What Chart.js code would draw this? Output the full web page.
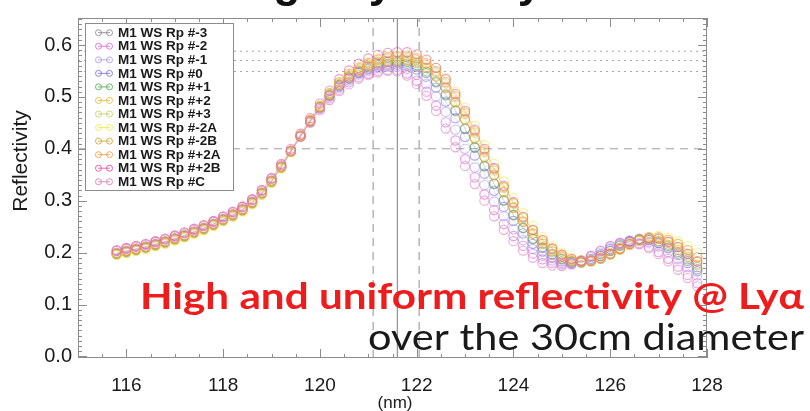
<!DOCTYPE html>
<html><head><meta charset="utf-8">
<script src="https://cdn.jsdelivr.net/npm/chart.js@4.4.0/dist/chart.umd.min.js"></script>
<style>html,body{margin:0;padding:0;background:#fff;}#wrap{width:810px;height:411px;position:relative;}</style>
</head><body><div id="wrap"><canvas id="c" width="810" height="411"></canvas></div>
<script>
// ---- data ----
const wavelengths = [115.8,116.0,116.2,116.4,116.6,116.8,117.0,117.2,117.4,117.6,117.8,118.0,118.2,118.4,118.6,118.8,119.0,119.2,119.4,119.6,119.8,120.0,120.2,120.4,120.6,120.8,121.0,121.2,121.4,121.6,121.8,122.0,122.2,122.4,122.6,122.8,123.0,123.2,123.4,123.6,123.8,124.0,124.2,124.4,124.6,124.8,125.0,125.2,125.4,125.6,125.8,126.0,126.2,126.4,126.6,126.8,127.0,127.2,127.4,127.6,127.8];
const seriesNames = ["M1 WS Rp #-3","M1 WS Rp #-2","M1 WS Rp #-1","M1 WS Rp #0","M1 WS Rp #+1","M1 WS Rp #+2","M1 WS Rp #+3","M1 WS Rp #-2A","M1 WS Rp #-2B","M1 WS Rp #+2A","M1 WS Rp #+2B","M1 WS Rp #C"];
const rpM3 = [.198,.202,.206,.210,.215,.220,.226,.232,.239,.246,.254,.263,.272,.282,.296,.314,.337,.364,.394,.424,.453,.480,.503,.522,.536,.547,.555,.561,.564,.566,.564,.558,.546,.528,.503,.473,.438,.402,.366,.332,.300,.272,.247,.226,.209,.196,.187,.182,.181,.185,.193,.203,.213,.221,.225,.224,.219,.210,.198,.184,.168];
const rpM2 = [.203,.207,.211,.215,.220,.225,.231,.237,.244,.251,.259,.268,.277,.287,.301,.319,.342,.368,.396,.424,.452,.477,.497,.514,.528,.538,.545,.550,.552,.552,.545,.531,.510,.483,.451,.416,.380,.345,.312,.282,.255,.232,.213,.198,.187,.180,.177,.179,.185,.194,.204,.213,.219,.221,.218,.211,.201,.188,.173,.157,.141];
const rpM1 = [.199,.203,.207,.211,.216,.221,.227,.233,.240,.247,.255,.264,.273,.283,.297,.315,.338,.365,.395,.425,.453,.479,.500,.518,.532,.543,.550,.555,.558,.558,.554,.543,.525,.501,.471,.437,.400,.364,.330,.298,.270,.245,.224,.207,.194,.185,.180,.180,.184,.191,.200,.210,.218,.223,.224,.220,.212,.201,.188,.172,.156];
const rp0 = [.198,.202,.206,.211,.216,.221,.227,.233,.240,.247,.255,.264,.273,.283,.297,.315,.338,.365,.395,.425,.454,.480,.502,.520,.535,.546,.553,.558,.561,.562,.560,.553,.539,.518,.491,.459,.423,.387,.352,.319,.288,.261,.237,.217,.202,.190,.183,.180,.182,.188,.197,.207,.216,.223,.226,.224,.218,.208,.195,.180,.164];
const rpP1 = [.199,.203,.207,.211,.216,.221,.227,.233,.240,.247,.255,.264,.273,.283,.297,.315,.338,.365,.395,.425,.454,.481,.504,.523,.538,.549,.558,.564,.567,.568,.567,.561,.549,.530,.505,.474,.439,.403,.367,.333,.301,.273,.248,.227,.210,.197,.188,.183,.182,.186,.194,.204,.214,.222,.227,.227,.222,.213,.201,.187,.172];
const rpP2 = [.199,.203,.207,.211,.216,.221,.227,.233,.240,.247,.255,.264,.273,.283,.297,.315,.338,.365,.396,.426,.455,.482,.505,.525,.540,.552,.561,.567,.570,.572,.572,.567,.557,.541,.519,.491,.458,.422,.385,.350,.317,.287,.260,.237,.218,.203,.192,.185,.182,.184,.190,.199,.209,.218,.225,.228,.226,.220,.210,.197,.183];
const rpP3 = [.196,.200,.204,.208,.213,.218,.224,.230,.237,.244,.252,.261,.270,.280,.294,.312,.335,.363,.394,.426,.455,.482,.506,.526,.542,.554,.563,.569,.573,.575,.575,.571,.562,.547,.526,.499,.467,.431,.394,.358,.325,.294,.266,.242,.222,.206,.194,.186,.182,.183,.188,.196,.206,.215,.223,.228,.228,.224,.216,.205,.191];
const rpM2A = [.195,.199,.203,.207,.212,.217,.223,.229,.236,.243,.251,.260,.269,.279,.293,.311,.334,.362,.393,.425,.456,.483,.508,.529,.545,.558,.567,.574,.578,.580,.581,.578,.570,.556,.536,.510,.479,.444,.407,.371,.337,.305,.276,.251,.230,.213,.200,.191,.186,.185,.189,.196,.205,.215,.224,.230,.232,.229,.222,.212,.200];
const rpM2B = [.197,.201,.205,.209,.214,.219,.225,.231,.238,.245,.253,.262,.271,.281,.295,.313,.336,.364,.394,.424,.453,.480,.503,.523,.538,.550,.559,.565,.568,.570,.570,.565,.555,.539,.517,.489,.456,.420,.384,.349,.316,.286,.259,.236,.217,.202,.191,.184,.181,.183,.189,.198,.208,.217,.223,.225,.222,.215,.205,.192,.177];
const rpP2A = [.200,.204,.208,.212,.217,.222,.228,.234,.241,.248,.256,.265,.274,.284,.298,.316,.339,.366,.396,.426,.455,.482,.507,.528,.544,.556,.565,.572,.576,.578,.578,.574,.565,.550,.529,.502,.470,.434,.397,.361,.327,.296,.268,.244,.224,.208,.196,.188,.184,.184,.189,.197,.207,.217,.225,.230,.230,.225,.217,.205,.191];
const rpP2B = [.205,.209,.213,.217,.222,.227,.233,.239,.246,.253,.261,.270,.279,.289,.303,.321,.344,.371,.400,.429,.459,.487,.512,.534,.551,.564,.574,.581,.585,.586,.586,.582,.572,.556,.534,.506,.473,.437,.400,.363,.329,.297,.269,.244,.224,.208,.196,.188,.184,.184,.189,.197,.207,.216,.224,.228,.227,.221,.211,.198,.183];
const rpC = [.204,.208,.212,.216,.221,.226,.232,.238,.245,.252,.260,.269,.278,.288,.302,.320,.343,.369,.397,.423,.450,.474,.494,.511,.524,.535,.542,.547,.550,.549,.541,.525,.502,.473,.439,.403,.367,.332,.300,.270,.244,.222,.204,.190,.180,.175,.174,.177,.184,.193,.203,.212,.218,.220,.216,.208,.197,.183,.167,.151,.135];
const seriesValues = [rpM3,rpM2,rpM1,rp0,rpP1,rpP2,rpP3,rpM2A,rpM2B,rpP2A,rpP2B,rpC];
const seriesColors = ["#85828e","#d768d8","#ad9ce8","#7372dc","#52aa52","#e6b83c","#c2d468","#f0ea4a","#d2a53a","#f3983e","#e44c9e","#da7cb4"];
const drawOrder = [11,3,8,9,10,6,7,4,5,1,2,0];
const xTicks = [116,118,120,122,124,126,128];
const yTicks = [0.0,0.1,0.2,0.3,0.4,0.5,0.6];
const vLinesDashed = [121.1, 122.05];
const vLineSolid = [121.6];
const hLinesDashed = [0.4];
const hLinesDotted = [0.588, 0.570, 0.549];
const xTitle = '(nm)', yTitle = 'Reflectivity';
const noteLine1 = 'High and uniform reflectivity @ Ly\u03B1';
const noteLine2 = 'over the 30cm diameter';
const X_MIN = 115, X_MAX = 128, Y_MIN = -0.003, Y_MAX = 0.652;

function hexA(h, a){const r=parseInt(h.slice(1,3),16),g=parseInt(h.slice(3,5),16),b=parseInt(h.slice(5,7),16);return `rgba(${r},${g},${b},${a})`;}

const datasets = [];
seriesValues.forEach((vals,i)=>{
  datasets.push({
    label: seriesNames[i],
    data: vals.map((v,k)=>({x:wavelengths[k], y:v})),
    showLine:true, borderWidth:0.7, borderColor:hexA(seriesColors[i],0.3),
    pointRadius:4.6, pointBorderWidth:1.1, pointBackgroundColor:'rgba(0,0,0,0)',
    pointBorderColor:hexA(seriesColors[i],0.6), pointStyle:'circle', order:drawOrder[i]
  });
});
const refStyle = {showLine:true, pointRadius:0, borderWidth:1.1, order:20};
vLinesDashed.forEach(v=>datasets.push(Object.assign({data:[{x:v,y:Y_MIN},{x:v,y:Y_MAX}], borderColor:'#9a9a9a', borderDash:[8,6]}, refStyle)));
vLineSolid.forEach(v=>datasets.push(Object.assign({data:[{x:v,y:Y_MIN},{x:v,y:Y_MAX}], borderColor:'#8a8a8a'}, refStyle)));
hLinesDashed.forEach(v=>datasets.push(Object.assign({data:[{x:X_MIN,y:v},{x:X_MAX,y:v}], borderColor:'#a0a0a0', borderDash:[8,6]}, refStyle)));
hLinesDotted.forEach(v=>datasets.push(Object.assign({data:[{x:X_MIN,y:v},{x:X_MAX,y:v}], borderColor:'#a8a8a8', borderDash:[2,4]}, refStyle)));

const FONT = '"Liberation Sans", Arial, sans-serif';
const decor = {
  id:'decor',
  afterDatasetsDraw(chart){
    const ctx = chart.ctx, a = chart.chartArea, xs = chart.scales.x, ys = chart.scales.y;
    ctx.save();
    ctx.strokeStyle = '#8c8c8c'; ctx.lineWidth = 1;
    ctx.strokeRect(a.left+0.5, a.top+0.5, a.right-a.left-1, a.bottom-a.top-1);
    ctx.beginPath();
    for (let v=115; v<=128.001; v+=0.5){
      const px = Math.round(xs.getPixelForValue(v))+0.5;
      const major = Math.abs(v/2-Math.round(v/2))<1e-6;
      const L = major?9:4;
      ctx.moveTo(px,a.bottom); ctx.lineTo(px,a.bottom-L);
      ctx.moveTo(px,a.top); ctx.lineTo(px,a.top+L);
    }
    for (let k=0; k<=65; k++){
      const v = k/100; if (v>Y_MAX) break;
      const py = Math.round(ys.getPixelForValue(v))+0.5;
      const L = (k%10===0)?9:4;
      ctx.moveTo(a.left,py); ctx.lineTo(a.left+L,py);
      ctx.moveTo(a.right,py); ctx.lineTo(a.right-L,py);
    }
    ctx.stroke();
    const bx=85, by=23, bw=148, bh=167;
    ctx.fillStyle='#fff'; ctx.fillRect(bx,by,bw,bh);
    ctx.strokeStyle='#8c8c8c'; ctx.strokeRect(bx+0.5,by+0.5,bw,bh);
    ctx.font = 'bold 13.5px ' + FONT;
    ctx.textBaseline='middle';
    seriesNames.forEach((n,i)=>{
      const y = 32.7 + i*13.55;
      const c = seriesColors[i];
      ctx.strokeStyle = hexA(c,0.85); ctx.lineWidth=1;
      ctx.beginPath(); ctx.moveTo(98,y); ctx.lineTo(110,y); ctx.stroke();
      ctx.beginPath(); ctx.arc(98.5,y,3,0,Math.PI*2); ctx.stroke();
      ctx.beginPath(); ctx.arc(109.5,y,3,0,Math.PI*2); ctx.stroke();
      ctx.fillStyle='#1a1a1a'; ctx.fillText(n,118,y+0.5);
    });
    ctx.restore();
  },
  afterDraw(chart){
    const ctx = chart.ctx;
    ctx.save();
    ctx.fillStyle='#1a1a1a'; ctx.textAlign='center'; ctx.textBaseline='middle';
    ctx.font = '17px ' + FONT; ctx.fillText(xTitle, 395, 403);
    ctx.save(); ctx.translate(21, 161); ctx.rotate(-Math.PI/2);
    ctx.font = '21px ' + FONT; ctx.fillText(yTitle, 0, 0); ctx.restore();
    function fitText(txt, font, color, x0, x1, base){
      ctx.font = font; ctx.fillStyle = color; ctx.textBaseline='alphabetic'; ctx.textAlign='left';
      const w = ctx.measureText(txt).width, sx = (x1-x0)/w;
      ctx.save(); ctx.translate(x0, base); ctx.scale(sx,1); ctx.fillText(txt,0,0); ctx.restore();
    }
    fitText(noteLine1, 'bold 36px Lato, "Open Sans", sans-serif', '#ee1c1c', 140, 804, 309);
    fitText(noteLine2, '36px Lato, "Open Sans", sans-serif', '#1a1a1a', 368, 804, 350);
    ctx.font = 'bold 44px ' + FONT; ctx.fillStyle='#111'; ctx.textAlign='center';
    ctx.fillText('g', 287, -3); ctx.fillText('y', 381, -3); ctx.fillText('y', 530, -3);
    ctx.restore();
  }
};

new Chart(document.getElementById('c'), {
  type:'scatter',
  data:{datasets},
  options:{
    responsive:false, animation:false, devicePixelRatio:1,
    layout:{padding:{top:9,right:103,left:0,bottom:0}},
    plugins:{legend:{display:false}, tooltip:{enabled:false}},
    scales:{
      x:{type:'linear', min:X_MIN, max:X_MAX,
        afterFit:s=>{s.height=53;},
        afterBuildTicks:s=>{s.ticks = xTicks.map(v=>({value:v}));},
        grid:{display:false, drawTicks:false}, border:{display:false},
        ticks:{padding:16, color:'#1a1a1a', font:{family:FONT, size:19}, callback:v=>String(v), maxRotation:0}
      },
      y:{type:'linear', min:Y_MIN, max:Y_MAX,
        afterFit:s=>{s.width=78;},
        afterBuildTicks:s=>{s.ticks = yTicks.map(v=>({value:v}));},
        grid:{display:false, drawTicks:false}, border:{display:false},
        ticks:{padding:6, color:'#1a1a1a', font:{family:FONT, size:20}, callback:v=>Number(v).toFixed(1)}
      }
    }
  },
  plugins:[decor]
});
</script></body></html>
